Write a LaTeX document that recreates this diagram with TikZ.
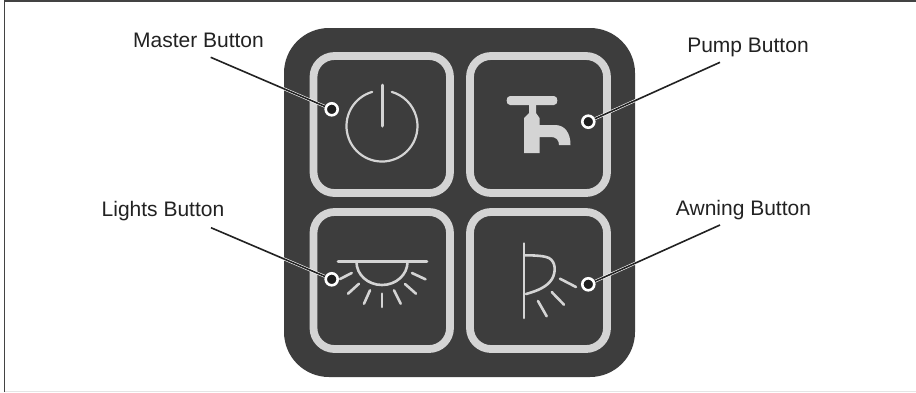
\documentclass[tikz,border=0pt]{standalone}
\usepackage{fontspec}
\setmainfont{Liberation Sans}
\definecolor{panel}{HTML}{3D3D3D}
\definecolor{rim}{HTML}{D4D4D4}
\definecolor{ink}{HTML}{222222}
\begin{document}
\begin{tikzpicture}[x=1pt,y=-1pt,
  lbl/.style={font=\fontsize{21}{24}\selectfont,text=ink,inner sep=0pt,anchor=center},
  btn/.style={draw=rim,line width=7.8pt,fill=panel,rounded corners=21pt},
  sym/.style={draw=rim,line width=2.6pt,line cap=round},
  halo/.style={draw=white,line width=2.8pt,yshift=-1pt},
  lead/.style={draw=ink,line width=1.6pt},
  dot/.style={circle,draw=white,fill=ink!90!black,line width=2.6pt,minimum size=12pt,inner sep=0pt}]
\useasboundingbox (0,0) rectangle (916,392);
\fill[white] (0,0) rectangle (916,392);
\draw[draw=ink!85,line width=1.2pt] (4.5,392) -- (4.5,1) -- (916,1);
\draw[draw=black!10,line width=1pt] (5,391) -- (916,391);
% panel
\fill[panel,rounded corners=45pt] (284,28) rectangle (635,377);
% buttons
\draw[btn] (313.5,56) rectangle (450,193);
\draw[btn] (470,56) rectangle (607,193);
\draw[btn] (313.5,212) rectangle (450,349);
\draw[btn] (470,212) rectangle (607,349);
% power
\draw[rim,line width=2.2pt,line cap=round] (372.2,91.9) arc[start angle=-106,end angle=-434,radius=35.5];
\draw[rim,line width=3pt,line cap=round] (382,85) -- (382,126);
% tap
\fill[rim] (510,96) -- (554,96) .. controls (558.5,96) and (558.5,105) .. (554,105) -- (510,105) .. controls (505.5,105) and (505.5,96) .. (510,96) -- cycle;
\fill[rim] (529,104) -- (536,104) -- (536,113) -- (539.5,118) -- (539.5,125) -- (555,125) .. controls (565,125) and (570.5,133) .. (570.5,145) -- (559,145) .. controls (559,140) and (556,137) .. (551,137) -- (539.5,137) -- (539.5,153) -- (524,153) -- (524,118) -- (529,113) -- cycle;
% lights
\draw[sym] (338,261.3) -- (427,261.3);
\draw[sym] (356.5,262) arc[start angle=180,end angle=0,x radius=25.5,y radius=23];
\draw[sym] (351.7,273) -- (340,279);
\draw[sym] (359,283.7) -- (348,293.7);
\draw[sym] (370,290.3) -- (364,303.7);
\draw[sym] (382,293.7) -- (382,307);
\draw[sym] (394,290.3) -- (400.7,303.7);
\draw[sym] (405,284) -- (416,293.7);
\draw[sym] (412,273) -- (425.5,279.3);
% awning
\draw[sym] (524,243.5) -- (524,318);
\draw[sym] (525,255.3) .. controls (536,255.3) and (545,256) .. (549,258) .. controls (556,262) and (556,272) .. (552,279) .. controls (547,287) and (537,291) .. (526,294);
\draw[sym] (560,278.7) -- (576,287);
\draw[sym] (551.7,292) -- (564,304.7);
\draw[sym] (538,301) -- (546.7,316.3);
% labels
\node[lbl] (m) at (198.5,40) {Master Button};
\node[lbl] (p) at (748,47) {Pump Button};
\node[lbl] (l) at (163,211.5) {Lights Button};
\node[lbl] (a) at (743.5,210) {Awning Button};
\coordinate (ms) at (210.7,57.3);
\coordinate (ps) at (720,62.3);
\coordinate (ls) at (211,227.7);
\coordinate (as) at (720,225);
\node[dot] (md) at (331.7,109.3) {};
\node[dot] (pd) at (588.3,121.7) {};
\node[dot] (ld) at (331.7,279.3) {};
\node[dot] (ad) at (588.3,284.3) {};
\foreach \s/\e in {ms/md,ps/pd,ls/ld,as/ad}{
  \draw[halo] (\s) -- (\e);
  \draw[lead] (\s) -- (\e);
}
\end{tikzpicture}
\end{document}
